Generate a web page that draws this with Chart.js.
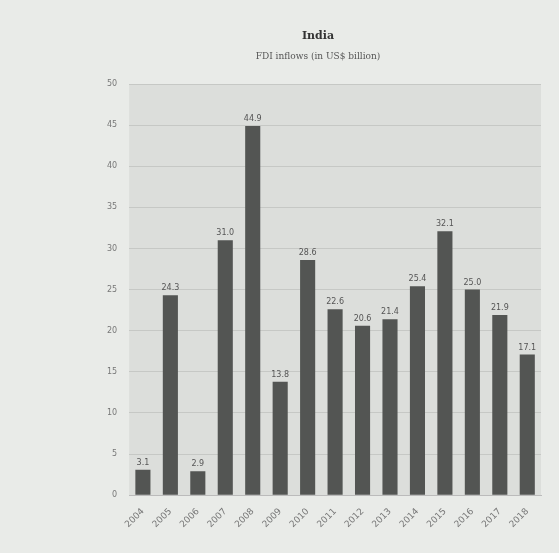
<!DOCTYPE html>
<html>
<head>
<meta charset="utf-8">
<script src="https://cdn.jsdelivr.net/npm/chart.js@4"></script>
<style>
html,body{margin:0;padding:0;background:#e9ebe8;}
#wrap{position:absolute;left:0;top:0;width:559px;height:553px;}
</style>
</head>
<body>
<div id="wrap"><canvas id="c" width="559" height="553"></canvas></div>
<script>
const categories = ["2004","2005","2006","2007","2008","2009","2010","2011","2012","2013","2014","2015","2016","2017","2018"];
const values = [3.1, 24.3, 2.9, 31.0, 44.9, 13.8, 28.6, 22.6, 20.6, 21.4, 25.4, 32.1, 25.0, 21.9, 17.1];
const titleText = "India";
const subtitleText = "FDI inflows (in US$ billion)";

const plotBg = {
  id: 'plotBg',
  beforeDraw(chart) {
    const {ctx, chartArea: a} = chart;
    ctx.save();
    ctx.fillStyle = '#dcdedb';
    ctx.fillRect(a.left, a.top, a.right - a.left, a.bottom - a.top);
    ctx.restore();
  }
};
const barLabels = {
  id: 'barLabels',
  afterDatasetsDraw(chart) {
    const {ctx} = chart;
    const meta = chart.getDatasetMeta(0);
    ctx.save();
    ctx.fillStyle = '#555';
    ctx.font = '8px "DejaVu Sans"';
    ctx.textAlign = 'center';
    ctx.textBaseline = 'bottom';
    meta.data.forEach((bar, i) => {
      ctx.fillText(values[i].toFixed(1), bar.x, bar.y - 3);
    });
    ctx.restore();
  }
};

new Chart(document.getElementById('c'), {
  type: 'bar',
  data: {
    labels: categories,
    datasets: [{
      data: values,
      backgroundColor: '#535553',
      borderWidth: 0,
      barPercentage: 0.55,
      categoryPercentage: 1.0
    }]
  },
  options: {
    responsive: false,
    animation: false,
    devicePixelRatio: 1,
    layout: {padding: {left: 95, right: 18, top: 10, bottom: 20}},
    plugins: {
      legend: {display: false},
      tooltip: {enabled: false},
      title: {display: true, text: titleText, color: '#333', font: {family: 'DejaVu Serif', size: 11, weight: 'bold'}, padding: {top: 20, bottom: 8}},
      subtitle: {display: true, text: subtitleText, color: '#555', font: {family: 'DejaVu Serif', size: 9}, padding: {bottom: 22}}
    },
    scales: {
      x: {
        grid: {display: false},
        border: {color: '#bbb'},
        ticks: {color: '#777', font: {family: 'DejaVu Sans', size: 9}, maxRotation: 45, minRotation: 45}
      },
      y: {
        min: 0, max: 50,
        ticks: {stepSize: 5, color: '#777', font: {family: 'DejaVu Sans', size: 8}, padding: 12},
        grid: {color: '#c6c8c5', drawTicks: false},
        border: {display: false}
      }
    }
  },
  plugins: [plotBg, barLabels]
});
</script>
</body>
</html>
